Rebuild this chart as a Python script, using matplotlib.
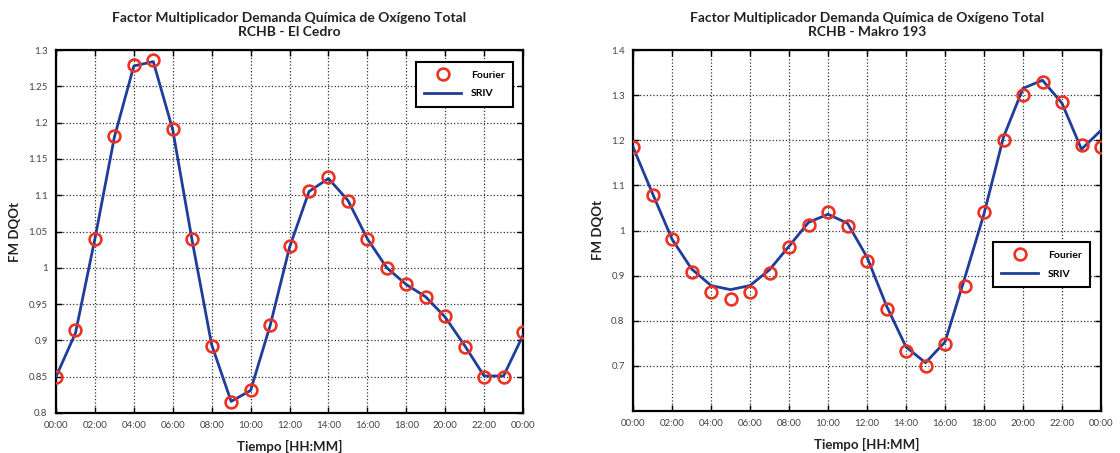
import matplotlib
matplotlib.use("Agg")
import matplotlib.pyplot as plt

plt.rcParams['font.family'] = ['Lato', 'DejaVu Sans']

# horas del dia (0..24)
horas = list(range(25))
xticks = list(range(0, 25, 2))
xlabels = ["%02d:00" % (h % 24) for h in xticks]

# RCHB - El Cedro
cedro_fourier = [0.850, 0.915, 1.040, 1.181, 1.280, 1.286, 1.191, 1.039, 0.892, 0.815,
                 0.832, 0.921, 1.030, 1.106, 1.125, 1.092, 1.040, 1.000, 0.977, 0.960,
                 0.933, 0.891, 0.850, 0.849, 0.912]
cedro_sriv = [0.850, 0.910, 1.040, 1.180, 1.278, 1.284, 1.190, 1.037, 0.894, 0.816,
              0.831, 0.920, 1.028, 1.105, 1.123, 1.093, 1.040, 1.000, 0.977, 0.960,
              0.932, 0.893, 0.851, 0.851, 0.907]

# RCHB - Makro 193
makro_fourier = [1.185, 1.078, 0.981, 0.907, 0.864, 0.849, 0.864, 0.905, 0.964, 1.013,
                 1.040, 1.010, 0.932, 0.825, 0.732, 0.700, 0.749, 0.876, 1.042, 1.200,
                 1.301, 1.330, 1.284, 1.190, 1.185]
makro_sriv = [1.185, 1.082, 0.981, 0.915, 0.878, 0.869, 0.878, 0.913, 0.965, 1.018,
              1.036, 1.016, 0.941, 0.833, 0.742, 0.707, 0.753, 0.893, 1.037, 1.207,
              1.315, 1.333, 1.282, 1.180, 1.222]

cedro_yticks = [0.8, 0.85, 0.9, 0.95, 1, 1.05, 1.1, 1.15, 1.2, 1.25, 1.3]
makro_yticks = [0.7, 0.8, 0.9, 1, 1.1, 1.2, 1.3, 1.4]

W, H = 1120, 453
fig = plt.figure(figsize=(W / 100, H / 100), dpi=100)

ROJO = '#ea3323'
AZUL = '#1f3d99'


def panel(rect, fourier, sriv, ylim, yticks, subtitulo, leg_anchor):
    x0, y0, x1, y1 = rect
    ax = fig.add_axes([x0 / W, 1 - y1 / H, (x1 - x0) / W, (y1 - y0) / H])
    ax.plot(horas, fourier, 'o', ls='none', mfc='none', mec=ROJO, mew=1.9, ms=8.5,
            label='Fourier', zorder=4)
    ax.plot(horas, sriv, '-', color=AZUL, lw=2, label='SRIV', zorder=3)
    ax.set_xlim(0, 24)
    ax.set_ylim(*ylim)
    ax.set_xticks(xticks)
    ax.set_xticklabels(xlabels)
    ax.set_yticks(yticks)
    ax.set_yticklabels(['%g' % v for v in yticks])
    ax.grid(True, ls=':', color='#333333', lw=0.9)
    ax.tick_params(direction='in', top=True, right=True, length=4, width=1,
                   labelsize=7, labelcolor='#444444', pad=6)
    for s in ax.spines.values():
        s.set_linewidth(1.6)
    ax.set_title('Factor Multiplicador Demanda Química de Oxígeno Total\n' + subtitulo,
                 fontsize=10, fontweight='bold', color='#222222', pad=10, linespacing=1.2)
    ax.set_xlabel('Tiempo [HH:MM]', fontsize=9.5, fontweight='bold', color='#222222', labelpad=7)
    ax.set_ylabel('FM DQOt', fontsize=9.5, fontweight='bold', color='#222222', labelpad=5)
    leg = ax.legend(loc='upper right', bbox_to_anchor=leg_anchor, fancybox=False,
                    edgecolor='black', framealpha=1, prop={'size': 7.5, 'weight': 'bold'},
                    handlelength=3.6, handletextpad=0.9, borderpad=0.8, labelspacing=0.9,
                    borderaxespad=0.3)
    leg.get_frame().set_linewidth(1.5)
    return ax


panel((56, 50, 523, 413), cedro_fourier, cedro_sriv, (0.8, 1.3), cedro_yticks,
      'RCHB - El Cedro', (0.985, 0.975))
panel((633, 50, 1101, 411), makro_fourier, makro_sriv, (0.6, 1.4), makro_yticks,
      'RCHB - Makro 193', (0.983, 0.476))

fig.savefig('out.png', dpi=100)
